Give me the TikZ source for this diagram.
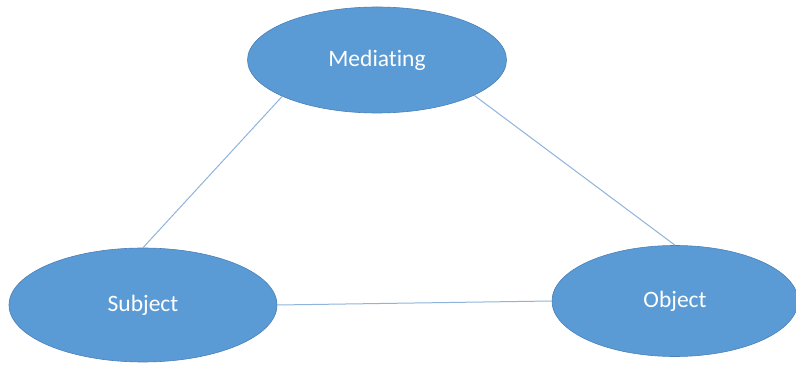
\documentclass[tikz,border=0pt]{standalone}
\usepackage{fontspec}
\setmainfont{Carlito}[Ligatures=NoCommon]
\usetikzlibrary{shapes.geometric}
\definecolor{fillblue}{HTML}{5B9BD5}
\definecolor{edgeblue}{HTML}{4A80B8}
\definecolor{linkblue}{HTML}{8FB3DA}

\begin{document}
\begin{tikzpicture}[x=1pt,y=-1pt,
  part/.style={ellipse,draw=edgeblue,line width=0.6pt,fill=fillblue,text=white,font=\fontsize{23.5}{27}\selectfont,inner sep=0pt},
  link/.style={draw=linkblue,line width=1pt}]
\useasboundingbox (0,0) rectangle (796,366);
\node[part,minimum width=259,minimum height=106] (med) at (377,60) {Mediating};
\node[part,minimum width=268,minimum height=114] (sub) at (143,305) {Subject};
\node[part,minimum width=246,minimum height=111] (obj) at (675,301) {Object};
\draw[link] (med.201) -- (sub.north);
\draw[link] (med.340) -- (obj.north);
\draw[link] (sub.east) -- (obj.west);
\end{tikzpicture}
\end{document}
